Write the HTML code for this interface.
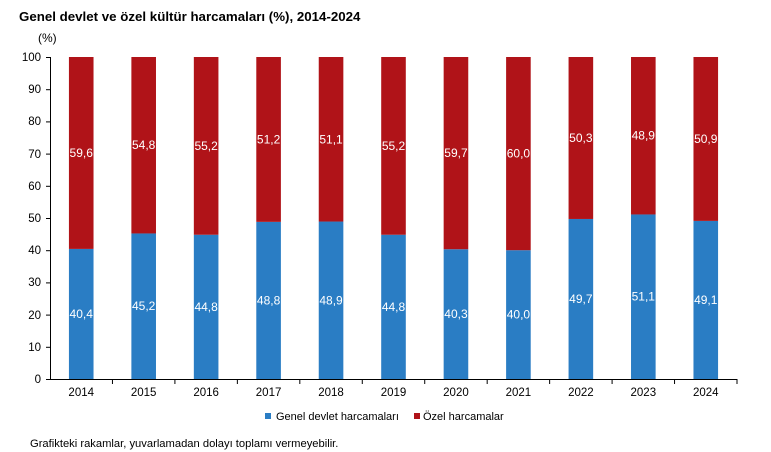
<!DOCTYPE html>
<html><head><meta charset="utf-8"><style>
html,body{margin:0;padding:0;background:#fff;}
svg{display:block;font-family:"Liberation Sans",Arial,sans-serif;}
</style></head><body>
<svg width="771" height="452" viewBox="0 0 771 452" xmlns="http://www.w3.org/2000/svg">
<rect width="771" height="452" fill="#fff"/>
<text x="19" y="21" font-size="13.3" font-weight="bold" fill="#000">Genel devlet ve özel kültür harcamaları (%), 2014-2024</text>
<text x="38" y="42" font-size="12" fill="#000">(%)</text>
<g font-size="11.5" fill="#000" text-anchor="end">
<text x="41" y="61">100</text>
<text x="41" y="93">90</text>
<text x="41" y="125">80</text>
<text x="41" y="158">70</text>
<text x="41" y="190">60</text>
<text x="41" y="222">50</text>
<text x="41" y="254">40</text>
<text x="41" y="286">30</text>
<text x="41" y="319">20</text>
<text x="41" y="351">10</text>
<text x="41" y="383">0</text>
</g>
<g id="bars"></g>
<g stroke="#000" stroke-width="1">
<line x1="50.5" y1="57" x2="50.5" y2="379"/>
<line x1="46" y1="57.5" x2="50" y2="57.5"/>
<line x1="46" y1="89.7" x2="50" y2="89.7"/>
<line x1="46" y1="121.9" x2="50" y2="121.9"/>
<line x1="46" y1="154.1" x2="50" y2="154.1"/>
<line x1="46" y1="186.3" x2="50" y2="186.3"/>
<line x1="46" y1="218.5" x2="50" y2="218.5"/>
<line x1="46" y1="250.7" x2="50" y2="250.7"/>
<line x1="46" y1="282.9" x2="50" y2="282.9"/>
<line x1="46" y1="315.1" x2="50" y2="315.1"/>
<line x1="46" y1="347.3" x2="50" y2="347.3"/>
<line x1="46" y1="379.5" x2="50" y2="379.5"/>
<line x1="50" y1="379.5" x2="737" y2="379.5"/>
</g>
<script>
(function(){
var g=[40.4,45.2,44.8,48.8,48.9,44.8,40.3,40.0,49.7,51.1,49.1];
var o=[59.6,54.8,55.2,51.2,51.1,55.2,59.7,60.0,50.3,48.9,50.9];
var yrs=[2014,2015,2016,2017,2018,2019,2020,2021,2022,2023,2024];
var ns="http://www.w3.org/2000/svg";
var svg=document.querySelector('svg');
var bars=document.getElementById('bars');
function y(v){return 379-v*3.22;}
function el(n,a,p,t){var e=document.createElementNS(ns,n);for(var k in a)e.setAttribute(k,a[k]);if(t!==undefined)e.textContent=t;(p||svg).appendChild(e);return e;}
var step=687/11;
for(var i=0;i<11;i++){
 var cx=50+step*(i+0.5);
 var bx=cx-12.3,bw=24.6;
 el('rect',{x:bx,y:y(g[i]),width:bw,height:379-y(g[i]),fill:'#2A7DC4'},bars);
 el('rect',{x:bx,y:57,width:bw,height:y(g[i])-57,fill:'#B01318'},bars);
 var f=function(v){return v.toFixed(1).replace('.',',');};
 el('text',{x:cx,y:y(g[i]/2)+4,'font-size':'12','fill':'#fff','text-anchor':'middle'},bars,f(g[i]));
 el('text',{x:cx,y:y(g[i]+(100-g[i])/2)+4,'font-size':'12','fill':'#fff','text-anchor':'middle'},bars,f(o[i]));
 el('text',{x:cx,y:396,'font-size':'11.5','fill':'#000','text-anchor':'middle'},null,yrs[i]);
 el('line',{x1:50+step*(i+1),y1:379,x2:50+step*(i+1),y2:384,stroke:'#000','stroke-width':1});
}
})();
</script>
<rect x="265" y="413" width="6" height="6" fill="#2A7DC4"/>
<text x="276" y="420" font-size="11" fill="#000">Genel devlet harcamaları</text>
<rect x="414" y="413" width="6" height="6" fill="#B01318"/>
<text x="423" y="420" font-size="11" fill="#000">Özel harcamalar</text>
<text x="30" y="447" font-size="11.2" fill="#000">Grafikteki rakamlar, yuvarlamadan dolayı toplamı vermeyebilir.</text>
</svg>
</body></html>
